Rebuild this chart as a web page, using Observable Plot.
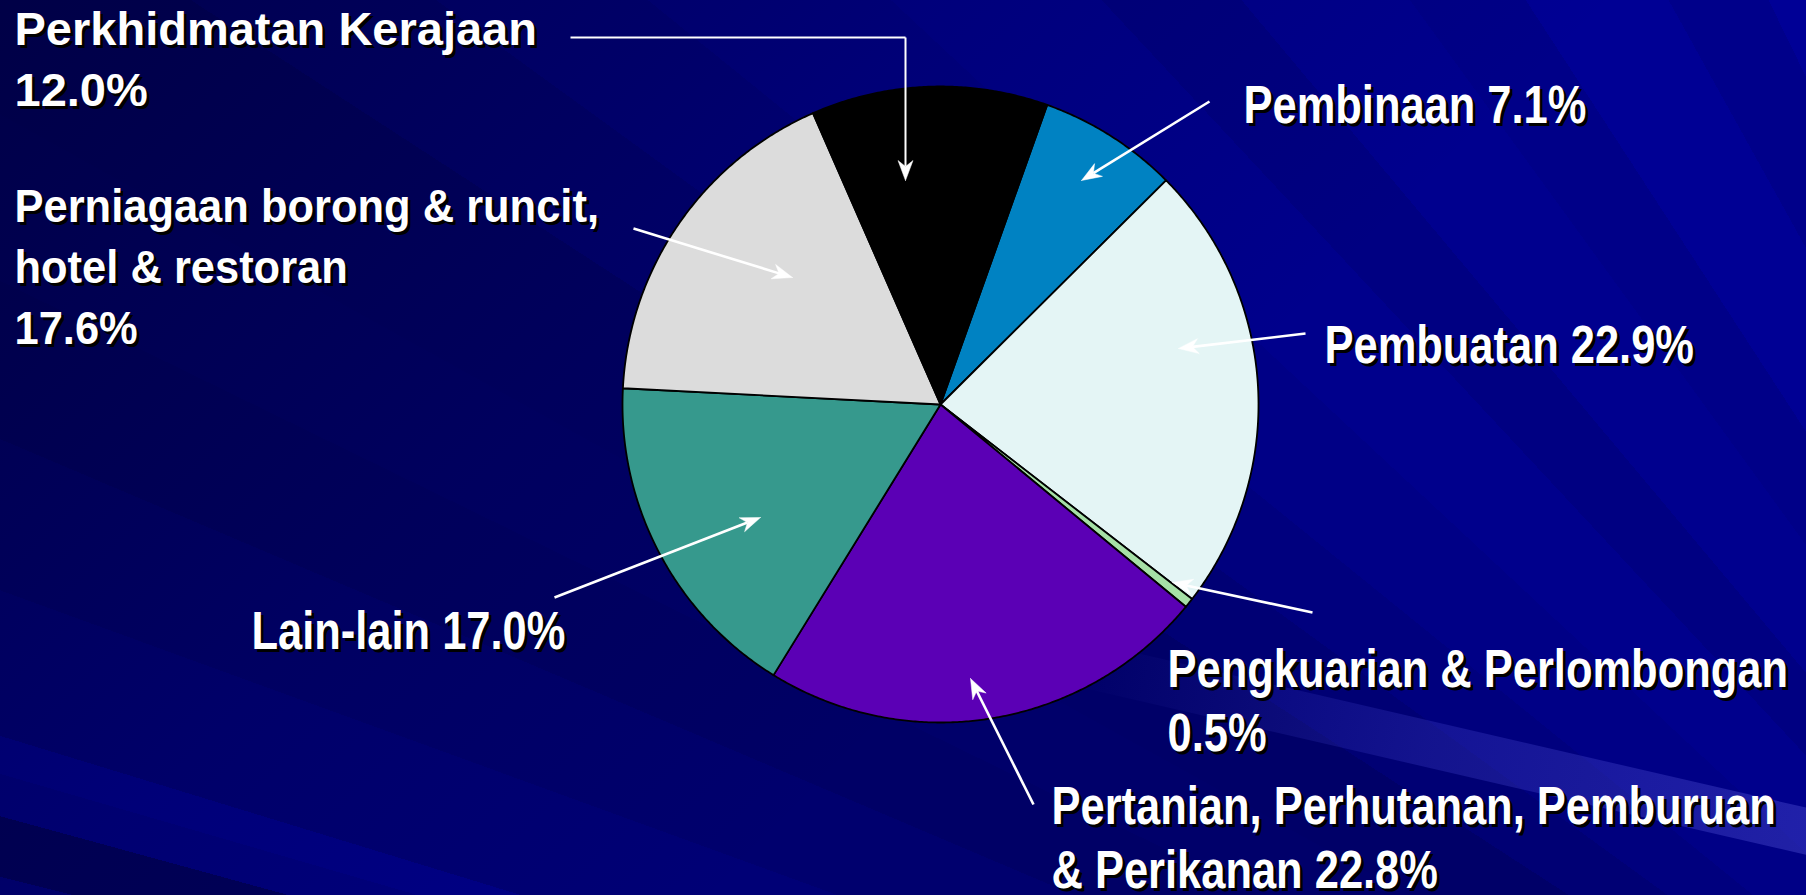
<!DOCTYPE html>
<html>
<head>
<meta charset="utf-8">
<script src="https://cdn.jsdelivr.net/npm/d3@7"></script>
<script src="https://cdn.jsdelivr.net/npm/@observablehq/plot@0.6"></script>
<style>
  html, body { margin: 0; padding: 0; width: 1806px; height: 895px; overflow: hidden; }
  body {
    position: relative;
    background:
      linear-gradient(135deg, rgba(0,0,30,0.45) 0%, rgba(0,0,30,0.15) 35%, rgba(0,0,0,0) 60%),
      conic-gradient(from 270deg at 2500px 1500px,
        #000078 0deg, #000078 14deg,
        #00005c 14deg, #00005c 15.3deg,
        #000080 15.3deg, #000080 16.2deg,
        #000088 16.2deg, #000088 17deg,
        #000076 17deg, #000076 20deg,
        #00006e 20deg, #00006e 23deg,
        #000066 23deg, #000066 26deg,
        #00006a 26deg, #00006a 29deg,
        #000068 29deg, #000068 33deg,
        #000074 33deg, #000074 36deg,
        #00007e 36deg, #00007e 39deg,
        #000086 39deg, #000086 43deg,
        #00008c 43deg, #00008c 47deg,
        #000082 47deg, #000082 50deg,
        #00008e 50deg, #00008e 54deg,
        #000088 54deg, #000088 57deg,
        #000094 57deg, #000094 61deg,
        #00008a 61deg, #00008a 64deg,
        #000096 64deg, #000096 90deg);
  }
  #streak {
    position: absolute; left: 1080px; top: 640px; width: 800px; height: 46px;
    transform: rotate(13deg); transform-origin: 0 0;
    background: linear-gradient(to right, rgba(70,70,210,0) 0%, rgba(70,70,210,0.28) 45%, rgba(90,90,220,0.38) 100%);
  }
  #chart { position: absolute; left: 0; top: 0; }
</style>
</head>
<body>
<div id="streak"></div>
<div id="chart"></div>
<script>
// ---- data ----
const sectors = [
  "Pembinaan",
  "Pembuatan",
  "Pengkuarian & Perlombongan",
  "Pertanian, Perhutanan, Pemburuan & Perikanan",
  "Lain-lain",
  "Perniagaan borong & runcit, hotel & restoran",
  "Perkhidmatan Kerajaan"
];
const shares = [7.1, 22.9, 0.5, 22.8, 17.0, 17.6, 12.0];
const sliceColors = ["#0082c2", "#e4f5f5", "#a6e0a6", "#5b00b5", "#36998d", "#dcdcdc", "#000000"];
// label text (name with its line breaks; the share is appended)
const labelNames = [
  "Pembinaan ",
  "Pembuatan ",
  "Pengkuarian & Perlombongan\n",
  "Pertanian, Perhutanan, Pemburuan\n& Perikanan ",
  "Lain-lain ",
  "Perniagaan borong & runcit,\nhotel & restoran\n",
  "Perkhidmatan Kerajaan\n"
];

// ---- layout (pixels) ----
const W = 1806, H = 895;
const pieGeom = { cx: 940, cy: 404, r: 318, startDeg: 19.6 };
const labelLayout = [
  { tx: 1243, ty: 122, from: [1209, 101], tip: [1081, 180], group: "narrow", squeeze: 0.82 },
  { tx: 1324, ty: 362, from: [1305, 333], tip: [1178, 348], group: "narrow", squeeze: 0.82 },
  { tx: 1167, ty: 750, from: [1312, 612], tip: [1172, 582], group: "narrow", squeeze: 0.82 },
  { tx: 1051, ty: 887, from: [1033, 804], tip: [970, 678], group: "narrow", squeeze: 0.82 },
  { tx: 251,  ty: 648, from: [554, 597],  tip: [760, 517], group: "narrow", squeeze: 0.82 },
  { tx: 14,   ty: 343, from: [633, 228],  tip: [792, 277], group: "wide", squeeze: 0.925 },
  { tx: 14,   ty: 105, from: [570, 37], via: [905, 37], tip: [905, 180], group: "wide", squeeze: 1 }
];
const head = { len: 20, half: 7.5, notch: 6 };

// ---- slice polygons from the data ----
const start = pieGeom.startDeg * Math.PI / 180;
const arcs = d3.pie().sort(null).value(d => d).startAngle(start).endAngle(start + 2 * Math.PI)(shares);
const slicePts = [];
arcs.forEach((a, i) => {
  const pt = (ang) => ({ sector: sectors[i], x: pieGeom.cx + pieGeom.r * Math.sin(ang), y: pieGeom.cy - pieGeom.r * Math.cos(ang) });
  slicePts.push({ sector: sectors[i], x: pieGeom.cx, y: pieGeom.cy });
  const n = Math.max(2, Math.ceil((a.endAngle - a.startAngle) / (0.4 * Math.PI / 180)));
  for (let k = 0; k <= n; k++) slicePts.push(pt(a.startAngle + (a.endAngle - a.startAngle) * k / n));
  slicePts.push({ sector: sectors[i], x: pieGeom.cx, y: pieGeom.cy });
});

const labels = sectors.map((s, i) => {
  const L = labelLayout[i];
  const [x1, y1] = L.via || L.from;
  const [x2, y2] = L.tip;
  const d = Math.hypot(x2 - x1, y2 - y1), ux = (x2 - x1) / d, uy = (y2 - y1) / d;
  return { sector: s, text: labelNames[i] + shares[i].toFixed(1) + "%", ...L, x1, y1, x2, y2, ux, uy };
});
// barbed (notched) arrowheads
const headPts = [];
labels.forEach(d => {
  const { x2, y2, ux, uy, sector } = d, px = -uy, py = ux;
  const bx = x2 - ux * head.len, by = y2 - uy * head.len;
  headPts.push({ sector, x: x2, y: y2 });
  headPts.push({ sector, x: bx + px * head.half, y: by + py * head.half });
  headPts.push({ sector, x: x2 - ux * (head.len - head.notch), y: y2 - uy * (head.len - head.notch) });
  headPts.push({ sector, x: bx - px * head.half, y: by - py * head.half });
  headPts.push({ sector, x: x2, y: y2 });
});
const elbows = labels.filter(d => d.via);
const narrow = labels.filter(d => d.group === "narrow");
const wide = labels.filter(d => d.group === "wide");

const textBase = { x: "tx", y: "ty", text: "text", textAnchor: "start", lineAnchor: "bottom",
  fontFamily: "'Liberation Sans', Arial, sans-serif", fontWeight: "bold" };

const chart = Plot.plot({
  width: W, height: H,
  margin: 0,
  x: { domain: [0, W], range: [0, W], axis: null },
  y: { domain: [0, H], range: [0, H], axis: null },
  color: { domain: sectors, range: sliceColors },
  style: { background: "transparent", overflow: "visible" },
  marks: [
    Plot.line(slicePts, { x: "x", y: "y", z: "sector", fill: "sector", stroke: "#000", strokeWidth: 1.8, strokeLinejoin: "round" }),
    Plot.link(elbows, { x1: d => d.from[0], y1: d => d.from[1], x2: d => d.via[0], y2: d => d.via[1], stroke: "white", strokeWidth: 2 }),
    Plot.link(labels, { x1: "x1", y1: "y1", x2: d => d.x2 - d.ux * (head.len - head.notch), y2: d => d.y2 - d.uy * (head.len - head.notch), stroke: "white", strokeWidth: d => d.via ? 2 : 2.6 }),
    Plot.line(headPts, { x: "x", y: "y", z: "sector", fill: "white", stroke: "white", strokeWidth: 0.5 }),
    Plot.text(narrow, { ...textBase, fontSize: 53, lineHeight: 1.2, fill: "#000", dx: 3, dy: 3 }),
    Plot.text(narrow, { ...textBase, fontSize: 53, lineHeight: 1.2, fill: "#fff" }),
    Plot.text(wide, { ...textBase, fontSize: 47, lineHeight: 1.29, fill: "#000", dx: 3, dy: 3 }),
    Plot.text(wide, { ...textBase, fontSize: 47, lineHeight: 1.29, fill: "#fff" })
  ]
});
document.getElementById("chart").appendChild(chart);

// condensed faces: squeeze labels horizontally about their anchor
chart.querySelectorAll("text").forEach(t => {
  const content = t.textContent;
  const lab = labels.find(d => content.startsWith(d.text.split("\n")[0]));
  if (!lab || lab.squeeze === 1) return;
  const tr = t.getAttribute("transform");
  if (tr) {
    t.setAttribute("transform", tr + ` scale(${lab.squeeze},1)`);
  } else {
    const x = +(t.getAttribute("x") || 0), y = +(t.getAttribute("y") || 0);
    t.removeAttribute("x"); t.removeAttribute("y");
    t.setAttribute("transform", `translate(${x},${y}) scale(${lab.squeeze},1)`);
  }
});
</script>
</body>
</html>
